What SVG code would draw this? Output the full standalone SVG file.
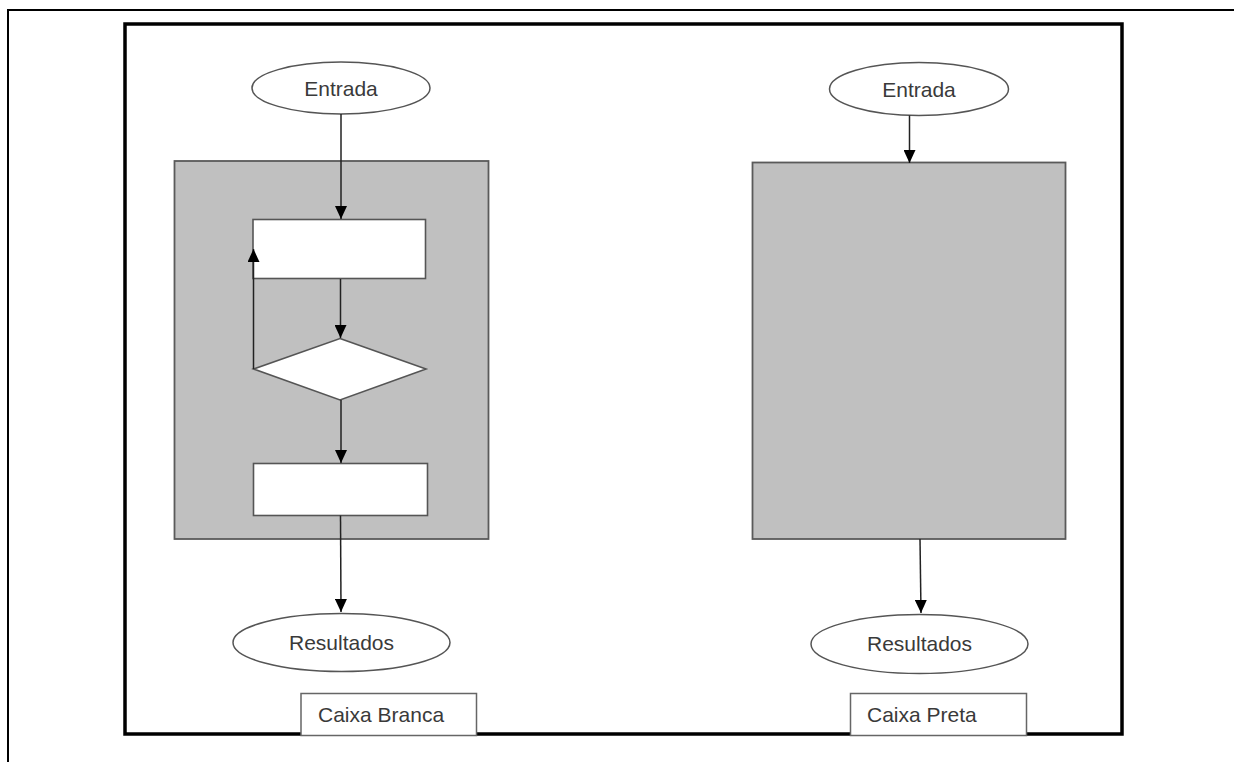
<svg xmlns="http://www.w3.org/2000/svg" width="1234" height="762" viewBox="0 0 1234 762">
  <style>
    .frame-outer { fill: none; stroke: #000; stroke-width: 2; }
    .frame-inner { fill: none; stroke: #000; stroke-width: 3.5; }
    .box { fill: #c0c0c0; stroke: #5a5a5a; stroke-width: 1.8; }
    .step { fill: #fff; stroke: #555; stroke-width: 1.6; }
    .term { fill: #fff; stroke: #555; stroke-width: 1.5; }
    .tag { fill: #fff; stroke: #666; stroke-width: 1.5; }
    .label { font-family: "Liberation Sans", Arial, sans-serif; font-size: 21px; fill: #3a3a3a; }
    .mid { text-anchor: middle; }
    .conn { fill: none; stroke: #222; stroke-width: 1.5; marker-end: url(#arrow); }
  </style>
  <defs>
    <!-- filled triangular arrowhead, tip at the end of the line -->
    <marker id="arrow" markerUnits="userSpaceOnUse" markerWidth="13" markerHeight="12" viewBox="0 0 13 12" refX="13" refY="6" orient="auto">
      <path d="M0,0 L13,6 L0,12 Z" fill="#000"/>
    </marker>
  </defs>

  <rect width="1234" height="762" fill="#fff"/>

  <!-- page frame -->
  <g id="page-frame">
    <polyline class="frame-outer" points="8,762 8,10 1234,10"/>
    <rect class="frame-inner" x="125" y="24" width="997" height="710"/>
  </g>

  <!-- white box (left) -->
  <g id="white-box">
    <rect class="box" x="174.5" y="161" width="314" height="378"/>
  </g>
  <g id="step-1">
    <rect class="step" x="253" y="219.5" width="172.5" height="59"/>
  </g>
  <g id="decision">
    <polygon class="step" points="340,338.5 426,369 340,400 253.5,369"/>
  </g>
  <g id="step-2">
    <rect class="step" x="253.5" y="463.5" width="174" height="52"/>
  </g>
  <g id="entrada-left">
    <ellipse class="term" cx="341" cy="88" rx="89" ry="26"/>
    <text class="label mid" x="341" y="96">Entrada</text>
  </g>
  <g id="resultados-left">
    <ellipse class="term" cx="341.5" cy="642.5" rx="108.5" ry="29"/>
    <text class="label mid" x="341.5" y="650">Resultados</text>
  </g>
  <g id="tag-left">
    <rect class="tag" x="301" y="693.5" width="175.5" height="42"/>
    <text class="label" x="318" y="722">Caixa Branca</text>
  </g>

  <!-- black box (right) -->
  <g id="black-box">
    <rect class="box" x="752.5" y="162.5" width="313" height="376.5"/>
  </g>
  <g id="entrada-right">
    <ellipse class="term" cx="919" cy="89" rx="89.5" ry="26.5"/>
    <text class="label mid" x="919" y="97">Entrada</text>
  </g>
  <g id="resultados-right">
    <ellipse class="term" cx="919.5" cy="644" rx="108.5" ry="29.5"/>
    <text class="label mid" x="919.5" y="651">Resultados</text>
  </g>
  <g id="tag-right">
    <rect class="tag" x="850.5" y="693.5" width="176" height="42"/>
    <text class="label" x="867" y="722">Caixa Preta</text>
  </g>

  <!-- connectors -->
  <g id="connectors">
    <line class="conn" x1="341" y1="114" x2="341" y2="219"/>
    <line class="conn" x1="340.5" y1="279" x2="340.5" y2="338"/>
    <line class="conn" x1="341" y1="400" x2="341" y2="463"/>
    <line class="conn" x1="253.5" y1="369" x2="253.5" y2="249"/>
    <line class="conn" x1="340.5" y1="515.5" x2="341" y2="612"/>
    <line class="conn" x1="909.5" y1="115.5" x2="909.5" y2="163"/>
    <line class="conn" x1="920" y1="539" x2="921" y2="613"/>
  </g>
</svg>
